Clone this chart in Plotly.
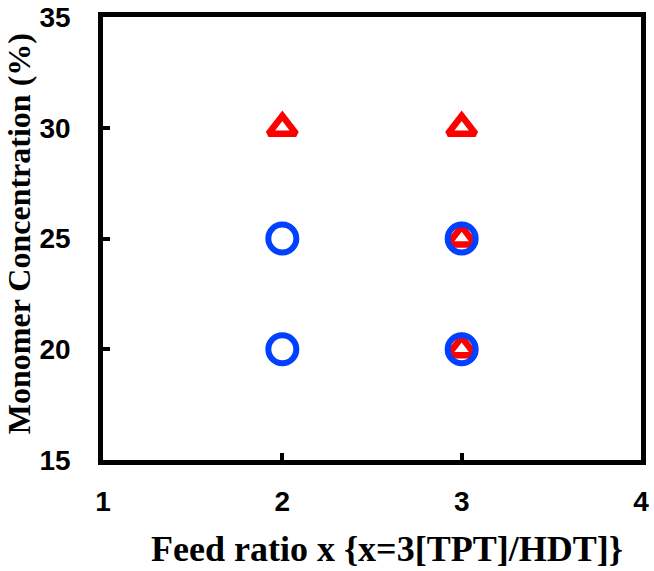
import plotly.graph_objects as go

tri_x = [2, 3, 3, 3]
tri_y = [30, 30, 25, 20]
circ_x = [2, 2, 3, 3]
circ_y = [25, 20, 25, 20]

x_ticks = [1, 2, 3, 4]
y_ticks = [15, 20, 25, 30, 35]

x_title = "Feed ratio x {x=3[TPT]/HDT]}"
y_title = "Monomer Concentration (%)"

fig = go.Figure()
fig.add_trace(go.Scatter(x=tri_x, y=tri_y, mode="markers",
                         marker=dict(symbol="triangle-up-open", size=24, color="#FF0000",
                                     line=dict(width=6.5, color="#FF0000")),
                         showlegend=False))
fig.add_trace(go.Scatter(x=circ_x, y=circ_y, mode="markers",
                         marker=dict(symbol="circle-open", size=28, color="#0040FF",
                                     line=dict(width=6, color="#0040FF")),
                         showlegend=False))

tickfont = dict(family="Liberation Sans", size=28, color="black")

fig.update_layout(
    width=654, height=571,
    margin=dict(l=103, r=13, t=17, b=111),
    plot_bgcolor="white", paper_bgcolor="white",
    xaxis=dict(range=[1, 4], tickvals=x_ticks, ticktext=["<b>%d</b>" % v for v in x_ticks],
               ticks="inside", ticklen=7, tickwidth=3.5, tickcolor="black",
               showline=True, linewidth=4.5, linecolor="black", mirror=True,
               showgrid=False, zeroline=False, tickfont=tickfont, automargin=False,
               ticklabeloverflow="allow", ticklabelstandoff=13),
    yaxis=dict(range=[15, 35], tickvals=y_ticks, ticktext=["<b>%d</b>" % v for v in y_ticks],
               ticks="inside", ticklen=7, tickwidth=3.5, tickcolor="black",
               showline=True, linewidth=4.5, linecolor="black", mirror=True,
               showgrid=False, zeroline=False, tickfont=tickfont, automargin=False,
               ticklabeloverflow="allow", ticklabelstandoff=22),
    annotations=[
        dict(text="<b>%s</b>" % x_title, xref="paper", yref="paper", x=0.527, y=-0.201,
             xanchor="center", yanchor="middle", showarrow=False,
             font=dict(family="Liberation Serif", size=36, color="black")),
        dict(text="<b>%s</b>" % y_title, xref="paper", yref="paper", x=-0.156, y=0.51,
             xanchor="center", yanchor="middle", showarrow=False, textangle=-90,
             font=dict(family="Liberation Serif", size=32, color="black")),
    ],
)
fig.write_html("out.html", config={"displayModeBar": False},
               post_script="document.body.style.margin='0';")
